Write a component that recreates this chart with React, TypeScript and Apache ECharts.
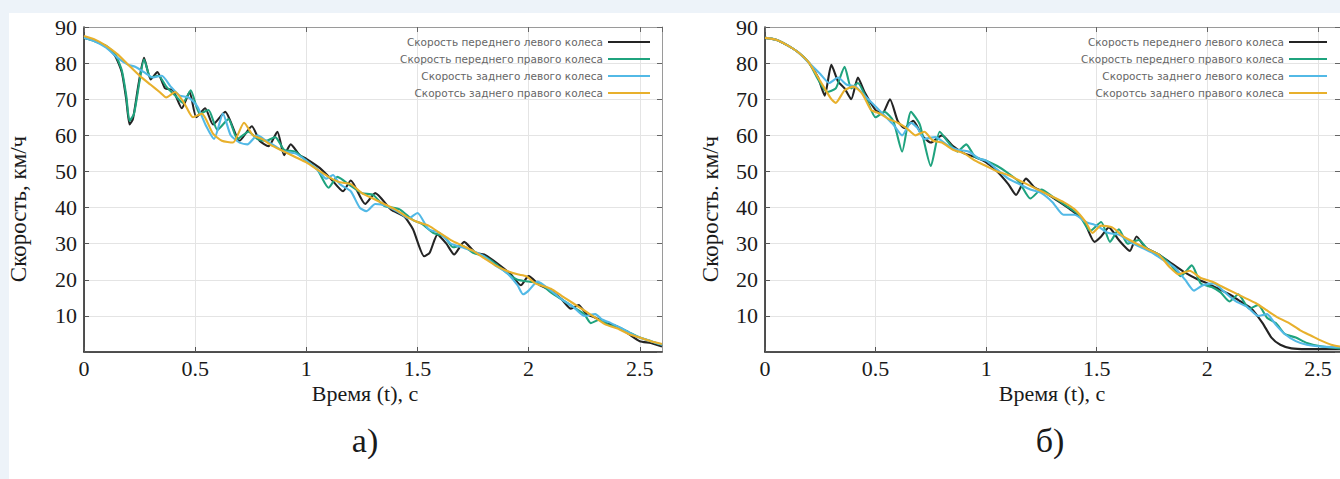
import React, { useEffect, useRef } from "react";
import * as echarts from "echarts";

// ---- names ----
const seriesNames = [
  "Скорость переднего левого колеса",
  "Скорость переднего правого колеса",
  "Скорость заднего левого колеса",
  "Скоротсь заднего правого колеса",
];
const seriesColors = ["#242424", "#1fa37e", "#52b9e6", "#e8b02c"];
const yTickLabels = [10, 20, 30, 40, 50, 60, 70, 80, 90];

// ---- chart а) ----
const aFrontLeft: number[][] = [
  [0, 87], [0.05, 86.2], [0.1, 84.5], [0.14, 82], [0.17, 77.5], [0.19, 70], [0.205, 63], [0.22, 64.5],
  [0.245, 74], [0.27, 81.5], [0.3, 75.5], [0.33, 77.5], [0.365, 73], [0.4, 72.5], [0.44, 67.5], [0.475, 72],
  [0.505, 65], [0.545, 67.5], [0.58, 63], [0.635, 66.5], [0.7, 58.5], [0.755, 62.5], [0.79, 58.5], [0.83, 57],
  [0.87, 61], [0.9, 54.5], [0.93, 57.5], [0.97, 54.5], [1.0, 53.5], [1.06, 51], [1.11, 48], [1.165, 44.5],
  [1.2, 47.5], [1.265, 41], [1.31, 44], [1.38, 39.5], [1.44, 37.5], [1.48, 34], [1.53, 26.5], [1.555, 27.5],
  [1.59, 32.5], [1.63, 30], [1.665, 27], [1.71, 30.5], [1.76, 27.5], [1.8, 27], [1.86, 24.5], [1.92, 21.5],
  [1.965, 18.5], [2.0, 21], [2.05, 18.5], [2.1, 17], [2.15, 14.5], [2.19, 12], [2.225, 13], [2.26, 10.5],
  [2.3, 9.5], [2.35, 8], [2.4, 7], [2.45, 5], [2.5, 3], [2.55, 2.5], [2.6, 1.5],
];
const aFrontRight: number[][] = [
  [0, 87], [0.05, 86], [0.1, 84.8], [0.14, 82.5], [0.17, 78], [0.19, 71], [0.205, 64], [0.225, 66],
  [0.25, 75], [0.27, 81], [0.3, 76], [0.335, 76.5], [0.37, 73.5], [0.41, 71], [0.445, 69], [0.48, 72.5],
  [0.52, 66], [0.56, 67], [0.6, 61.5], [0.65, 64.5], [0.69, 59], [0.74, 61], [0.78, 59], [0.82, 58.5],
  [0.86, 59.5], [0.9, 56], [0.95, 55.5], [1.0, 53], [1.05, 50.5], [1.1, 45.5], [1.14, 48.5], [1.2, 46],
  [1.25, 44], [1.3, 43.5], [1.35, 40.5], [1.42, 39.5], [1.48, 36.5], [1.52, 35.5], [1.57, 33], [1.62, 32],
  [1.66, 29], [1.7, 29.5], [1.75, 27.5], [1.8, 26.5], [1.85, 24.5], [1.9, 22], [1.95, 20], [2.0, 19.5],
  [2.05, 19], [2.1, 16.5], [2.15, 14.5], [2.2, 12.5], [2.25, 10.5], [2.28, 8], [2.32, 9], [2.36, 7.5],
  [2.4, 7], [2.45, 5.5], [2.5, 4], [2.55, 3], [2.6, 2],
];
const aRearLeft: number[][] = [
  [0, 87], [0.05, 86], [0.1, 84.3], [0.15, 81.5], [0.2, 79.5], [0.23, 79], [0.27, 77.5], [0.31, 76],
  [0.35, 76.5], [0.39, 73.5], [0.43, 71], [0.47, 70.5], [0.51, 68], [0.55, 62.5], [0.585, 59], [0.625, 66],
  [0.66, 60], [0.7, 58], [0.735, 57.5], [0.78, 60], [0.82, 58.5], [0.86, 57], [0.9, 55.5], [0.95, 55],
  [1.0, 53], [1.05, 50.5], [1.09, 48], [1.12, 49], [1.15, 46.5], [1.2, 44.5], [1.24, 40], [1.27, 39],
  [1.31, 41], [1.36, 40.5], [1.42, 38.5], [1.46, 37], [1.5, 38.5], [1.55, 34], [1.6, 33], [1.65, 30],
  [1.7, 29], [1.75, 28], [1.8, 26.5], [1.85, 24], [1.9, 22], [1.95, 18.5], [1.975, 16], [2.0, 17],
  [2.04, 19.5], [2.1, 17], [2.15, 14.5], [2.2, 12.5], [2.25, 10], [2.3, 10.5], [2.33, 9], [2.37, 8],
  [2.42, 6.5], [2.48, 4.5], [2.55, 3], [2.6, 2],
];
const aRearRight: number[][] = [
  [0, 87.5], [0.05, 86.5], [0.1, 84.8], [0.15, 82.5], [0.2, 79.5], [0.25, 76.5], [0.3, 74], [0.34, 72],
  [0.37, 70.5], [0.41, 72], [0.45, 69], [0.49, 65], [0.53, 66], [0.58, 60.5], [0.62, 58.5], [0.67, 58],
  [0.72, 63.5], [0.76, 60], [0.8, 59], [0.85, 57], [0.9, 55.5], [0.95, 54], [1.0, 52.5], [1.05, 50.5],
  [1.1, 48.5], [1.15, 47], [1.2, 46.5], [1.25, 44], [1.3, 42.5], [1.35, 41], [1.4, 39.5], [1.45, 37.5],
  [1.5, 36], [1.55, 35], [1.6, 33], [1.65, 31], [1.7, 29.5], [1.75, 28], [1.8, 26], [1.85, 24],
  [1.9, 22.5], [1.95, 21.5], [1.99, 21], [2.03, 19], [2.1, 17.5], [2.15, 15.5], [2.2, 13.5], [2.25, 11.5],
  [2.3, 9.5], [2.35, 7.5], [2.4, 6.5], [2.45, 5], [2.5, 4], [2.55, 3], [2.6, 2.2],
];

// ---- chart б) ----
const bFrontLeft: number[][] = [
  [0, 87], [0.05, 86.5], [0.1, 85], [0.15, 83], [0.2, 80], [0.24, 76], [0.27, 71], [0.3, 79.5],
  [0.33, 75], [0.36, 73], [0.39, 70], [0.42, 76], [0.45, 72], [0.5, 67], [0.53, 66], [0.565, 70],
  [0.6, 64], [0.63, 62], [0.67, 64], [0.71, 60], [0.75, 58], [0.8, 60], [0.85, 57], [0.9, 55],
  [0.95, 54], [1.0, 52.5], [1.05, 50], [1.1, 46.5], [1.135, 43.5], [1.18, 48], [1.22, 45.5], [1.27, 44],
  [1.32, 42], [1.38, 39.5], [1.44, 36.5], [1.49, 30.5], [1.52, 32], [1.555, 34.5], [1.6, 31], [1.65, 28],
  [1.68, 32], [1.72, 29], [1.78, 27], [1.84, 24.5], [1.9, 22], [1.96, 20], [2.0, 19], [2.05, 17.5],
  [2.1, 16], [2.15, 14], [2.2, 12], [2.25, 8], [2.29, 4], [2.33, 2], [2.38, 1], [2.45, 0.8],
  [2.52, 0.8], [2.6, 0.8],
];
const bFrontRight: number[][] = [
  [0, 87], [0.05, 86.5], [0.1, 85], [0.15, 83], [0.2, 80], [0.24, 75.5], [0.28, 72], [0.32, 73],
  [0.36, 79], [0.39, 73], [0.42, 74.5], [0.46, 70], [0.5, 65], [0.54, 66.5], [0.58, 64], [0.62, 55.5],
  [0.66, 66.5], [0.7, 63], [0.75, 51.5], [0.79, 61], [0.83, 58], [0.87, 55.5], [0.91, 57.5], [0.95, 54],
  [1.0, 53], [1.05, 51.5], [1.1, 49.5], [1.15, 47], [1.2, 42.5], [1.25, 45], [1.3, 43], [1.35, 41],
  [1.42, 38], [1.47, 33.5], [1.52, 36], [1.56, 30.5], [1.6, 34], [1.64, 30], [1.69, 31], [1.73, 28.5],
  [1.78, 27], [1.83, 24.5], [1.88, 21], [1.93, 24], [1.97, 19], [2.02, 18], [2.06, 16.5], [2.1, 14],
  [2.14, 16], [2.19, 12], [2.23, 13], [2.27, 9.5], [2.31, 8], [2.35, 5], [2.4, 4], [2.45, 2.5],
  [2.52, 1.5], [2.6, 1],
];
const bRearLeft: number[][] = [
  [0, 87], [0.05, 86.5], [0.1, 85], [0.15, 83], [0.2, 80], [0.25, 77], [0.29, 74.5], [0.33, 76],
  [0.37, 74], [0.41, 73.5], [0.45, 71], [0.5, 68], [0.54, 65.5], [0.58, 63], [0.62, 60], [0.66, 63.5],
  [0.69, 62], [0.72, 59], [0.77, 59.5], [0.82, 57.5], [0.87, 56], [0.92, 55.5], [0.97, 53.5], [1.0, 53],
  [1.05, 50.5], [1.1, 48], [1.15, 46.5], [1.2, 45], [1.25, 44], [1.3, 41.5], [1.35, 38], [1.4, 38],
  [1.45, 36], [1.5, 35], [1.55, 33], [1.6, 32.5], [1.65, 30.5], [1.7, 29], [1.75, 27.5], [1.8, 25.5],
  [1.85, 23.5], [1.9, 20], [1.94, 17], [1.98, 18.5], [2.03, 19], [2.08, 16.5], [2.13, 14], [2.18, 12.5],
  [2.23, 10], [2.27, 10.5], [2.31, 7.5], [2.35, 5], [2.4, 3], [2.45, 2], [2.52, 1.5], [2.6, 1.3],
];
const bRearRight: number[][] = [
  [0, 87], [0.05, 86.5], [0.1, 85], [0.15, 83], [0.2, 80], [0.25, 75], [0.3, 70], [0.32, 69],
  [0.36, 72.5], [0.4, 73.5], [0.44, 71.5], [0.48, 67], [0.52, 66], [0.56, 64.5], [0.6, 63.5], [0.64, 62],
  [0.68, 60], [0.72, 61], [0.76, 58.5], [0.8, 58], [0.85, 56], [0.9, 55], [0.95, 53], [1.0, 51.5],
  [1.05, 50], [1.1, 49], [1.15, 47.5], [1.2, 46], [1.25, 44.5], [1.3, 43], [1.35, 41.5], [1.4, 39.5],
  [1.45, 36], [1.48, 33], [1.52, 35], [1.57, 34.5], [1.62, 32], [1.68, 30], [1.73, 28.5], [1.78, 27],
  [1.83, 23.5], [1.87, 21.5], [1.92, 22.5], [1.97, 20.5], [2.02, 19.5], [2.07, 18], [2.12, 16.5], [2.17, 15],
  [2.22, 13.5], [2.27, 11.5], [2.32, 9.5], [2.37, 8], [2.42, 6], [2.47, 4.5], [2.52, 3], [2.56, 2],
  [2.6, 1.5],
];

const chartA = [aFrontLeft, aFrontRight, aRearLeft, aRearRight];
const chartB = [bFrontLeft, bFrontRight, bRearLeft, bRearRight];

const SERIF = "'Liberation Serif', 'Times New Roman', serif";

export default function App() {
  const ref = useRef<HTMLDivElement>(null);

  useEffect(() => {
    document.body.style.margin = "0";
    if (!ref.current) return;
    const chart = echarts.init(ref.current, null, { renderer: "svg" });

    const grids = [
      { left: 84, top: 27, width: 578, height: 325 },
      { left: 765, top: 27, width: 577, height: 325 },
    ];

    const xAxes: any[] = [];
    const yAxes: any[] = [];
    grids.forEach((_, gi) => {
      xAxes.push({
        type: "value", gridIndex: gi, min: 0, max: 2.6, interval: 0.5, position: "bottom",
        axisLine: { show: true, onZero: false, lineStyle: { color: "#1a1a1a", width: 1.5 } },
        axisTick: { show: true, inside: true, length: 5, lineStyle: { color: "#555" } },
        axisLabel: {
          showMaxLabel: false, margin: 5, color: "#1a1a1a", fontFamily: SERIF, fontSize: 22,
          formatter: (v: number) => String(v),
        },
        splitLine: { show: true, lineStyle: { color: "#e4e4e4", width: 1 } },
      });
      xAxes.push({
        type: "value", gridIndex: gi, min: 0, max: 2.6, interval: 0.5, position: "top",
        axisLine: { show: true, onZero: false, lineStyle: { color: "#9a9a9a", width: 1 } },
        axisTick: { show: true, inside: true, length: 5, lineStyle: { color: "#666" } },
        axisLabel: { show: false },
        splitLine: { show: false },
      });
      yAxes.push({
        type: "value", gridIndex: gi, min: 0, max: 90, interval: 10, position: "left",
        axisLine: { show: true, onZero: false, lineStyle: { color: "#1a1a1a", width: 1.5 } },
        axisTick: { show: true, inside: true, length: 5, lineStyle: { color: "#555" } },
        axisLabel: {
          margin: 7, color: "#1a1a1a", fontFamily: SERIF, fontSize: 22,
          formatter: (v: number) => (yTickLabels.indexOf(v) >= 0 ? String(v) : ""),
        },
        splitLine: { show: true, lineStyle: { color: "#e4e4e4", width: 1 } },
      });
      yAxes.push({
        type: "value", gridIndex: gi, min: 0, max: 90, interval: 10, position: "right",
        axisLine: { show: true, onZero: false, lineStyle: { color: "#9a9a9a", width: 1 } },
        axisTick: { show: true, inside: true, length: 5, lineStyle: { color: "#666" } },
        axisLabel: { show: false },
        splitLine: { show: false },
      });
    });

    const series: any[] = [];
    [chartA, chartB].forEach((set, gi) => {
      set.forEach((data, si) => {
        series.push({
          type: "line", name: seriesNames[si], xAxisIndex: gi * 2, yAxisIndex: gi * 2,
          data, symbol: "none", showSymbol: false, smooth: 0.2, clip: true,
          lineStyle: { color: seriesColors[si], width: 2.1 },
          itemStyle: { color: seriesColors[si] },
        });
      });
    });

    const legendCommon = {
      data: seriesNames, orient: "vertical", align: "right", top: 36,
      icon: "rect", itemHeight: 2, itemGap: 5, padding: 0, selectedMode: false,
      textStyle: { fontFamily: "'DejaVu Sans', sans-serif", fontSize: 10.5, color: "#666666", lineHeight: 12 },
    };

    chart.setOption({
      animation: false,
      backgroundColor: "#ffffff",
      grid: grids,
      xAxis: xAxes,
      yAxis: yAxes,
      legend: [
        { ...legendCommon, right: 690, itemWidth: 42 },
        { ...legendCommon, right: 13, itemWidth: 38 },
      ],
      series,
      graphic: [
        { type: "rect", z: -10, shape: { x: 0, y: 0, width: 1340, height: 13 }, style: { fill: "#edf3f9" } },
        { type: "rect", z: -10, shape: { x: 0, y: 0, width: 9, height: 479 }, style: { fill: "#edf3f9" } },
        {
          type: "text", x: 365, y: 393,
          style: { text: "Время (t), с", fontFamily: SERIF, fontSize: 22, fill: "#1a1a1a", align: "center", verticalAlign: "middle" },
        },
        {
          type: "text", x: 1052, y: 393,
          style: { text: "Время (t), с", fontFamily: SERIF, fontSize: 22, fill: "#1a1a1a", align: "center", verticalAlign: "middle" },
        },
        {
          type: "text", x: 18, y: 209, rotation: Math.PI / 2,
          style: { text: "Скорость, км/ч", fontFamily: SERIF, fontSize: 23, fill: "#1a1a1a", align: "center", verticalAlign: "middle" },
        },
        {
          type: "text", x: 710, y: 209, rotation: Math.PI / 2,
          style: { text: "Скорость. км/ч", fontFamily: SERIF, fontSize: 23, fill: "#1a1a1a", align: "center", verticalAlign: "middle" },
        },
        {
          type: "text", x: 365, y: 440,
          style: { text: "а)", fontFamily: SERIF, fontSize: 34, fill: "#1a1a1a", align: "center", verticalAlign: "middle" },
        },
        {
          type: "text", x: 1050, y: 440,
          style: { text: "б)", fontFamily: SERIF, fontSize: 34, fill: "#1a1a1a", align: "center", verticalAlign: "middle" },
        },
      ],
    });

    return () => chart.dispose();
  }, []);

  return (
    <div
      ref={ref}
      style={{ width: 1340, height: 479, position: "fixed", left: 0, top: 0, background: "#fff" }}
    />
  );
}
